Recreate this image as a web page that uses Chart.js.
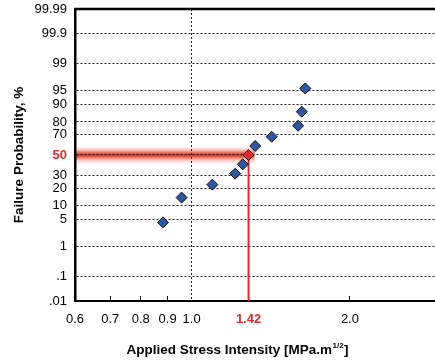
<!DOCTYPE html>
<html>
<head>
<meta charset="utf-8">
<script src="https://cdn.jsdelivr.net/npm/chart.js@4.4.1/dist/chart.umd.min.js"></script>
<style>
  html, body { margin: 0; padding: 0; background: #fff; overflow: hidden; }
  #wrap { width: 449px; height: 360px; }
</style>
</head>
<body>
<div id="wrap"><canvas id="c" width="449" height="360"></canvas></div>
<script>
  "use strict";

  // данные
  const stress = [0.882, 0.957, 1.095, 1.21, 1.251, 1.283, 1.321, 1.42, 1.594, 1.62, 1.645];
  const failPct = [4.3, 13.9, 22.5, 31.7, 40.6, 50, 59.1, 67.9, 77.2, 86.5, 95.5];

  const yTickPct = [0.01, 0.1, 1, 5, 10, 20, 30, 50, 70, 80, 90, 95, 99, 99.9, 99.99];
  const yTickLabels = [".01", ".1", "1", "5", "10", "20", "30", "50", "70", "80", "90", "95", "99", "99.9", "99.99"];

  const xTickVals = [0.6, 0.7, 0.8, 0.9, 1.0, 1.283, 2.0];
  const xTickLabels = ["0.6", "0.7", "0.8", "0.9", "1.0", "1.42", "2.0"];
  const xMin = 0.6;
  const xMax = 3.0;

  const markStress = 1.283; // где стоит красная отметка
  const markPct = 50;

  const RED = "#e4282a";
  const BLUE = "#2f57a4";
  const FONT = '"Liberation Sans", Arial, Helvetica, sans-serif';

  // обратная функция нормального распределения (Acklam)
  function probit(p) {
    const a = [-3.969683028665376e1, 2.209460984245205e2, -2.759285104469687e2, 1.38357751867269e2, -3.066479806614716e1, 2.506628277459239];
    const b = [-5.447609879822406e1, 1.615858368580409e2, -1.556989798598866e2, 6.680131188771972e1, -1.328068155288572e1];
    const c = [-7.784894002430293e-3, -3.223964580411365e-1, -2.400758277161838, -2.549732539343734, 4.374664141464968, 2.938163982698783];
    const d = [7.784695709041462e-3, 3.224671290700398e-1, 2.445134137142996, 3.754408661907416];
    const pl = 0.02425;
    if (p < pl) {
      const q = Math.sqrt(-2 * Math.log(p));
      return (((((c[0] * q + c[1]) * q + c[2]) * q + c[3]) * q + c[4]) * q + c[5]) /
        ((((d[0] * q + d[1]) * q + d[2]) * q + d[3]) * q + 1);
    }
    if (p > 1 - pl) {
      const q = Math.sqrt(-2 * Math.log(1 - p));
      return -(((((c[0] * q + c[1]) * q + c[2]) * q + c[3]) * q + c[4]) * q + c[5]) /
        ((((d[0] * q + d[1]) * q + d[2]) * q + d[3]) * q + 1);
    }
    const q = p - 0.5;
    const r = q * q;
    return (((((a[0] * r + a[1]) * r + a[2]) * r + a[3]) * r + a[4]) * r + a[5]) * q /
      (((((b[0] * r + b[1]) * r + b[2]) * r + b[3]) * r + b[4]) * r + 1);
  }

  const z = (pct) => probit(pct / 100);
  const yMin = z(yTickPct[0]);
  const yMax = z(yTickPct[yTickPct.length - 1]);

  const points = stress.map((s, i) => ({ x: s, y: z(failPct[i]) }));
  const markLine = [
    { x: markStress, y: z(markPct) },
    { x: markStress, y: yMin },
  ];

  Chart.defaults.font.family = FONT;
  Chart.defaults.color = "#000";

  // красное «свечение» под сеткой + верхняя рамка + подпись оси X с индексом
  const decor = {
    id: "decor",
    beforeDraw(chart) {
      const { ctx, chartArea, scales } = chart;
      const y = scales.y.getPixelForValue(z(markPct));
      const x0 = chartArea.left;
      const x1 = scales.x.getPixelForValue(markStress) + 6;
      const h = 9;
      const g = ctx.createLinearGradient(0, y - h, 0, y + h);
      g.addColorStop(0, "rgba(245,150,130,0)");
      g.addColorStop(0.2, "rgba(242,130,110,0.4)");
      g.addColorStop(0.36, "rgba(232,80,60,0.8)");
      g.addColorStop(0.5, "rgba(220,40,25,1)");
      g.addColorStop(0.64, "rgba(232,80,60,0.8)");
      g.addColorStop(0.8, "rgba(242,130,110,0.4)");
      g.addColorStop(1, "rgba(245,150,130,0)");
      ctx.save();
      ctx.fillStyle = g;
      ctx.fillRect(x0, y - h, x1 - x0, 2 * h);
      ctx.restore();
    },
    afterDraw(chart) {
      const { ctx, chartArea } = chart;
      ctx.save();
      ctx.fillStyle = "#000";
      ctx.fillRect(chartArea.left - 1, chartArea.top - 1.25, chartArea.right - chartArea.left + 1, 2.5);

      const main = "Applied Stress Intensity [MPa.m";
      const sup = "1/2";
      const end = "]";
      const fMain = "bold 13.5px " + FONT;
      const fSup = "bold 8px " + FONT;
      ctx.font = fMain;
      const wMain = ctx.measureText(main).width;
      const wEnd = ctx.measureText(end).width;
      ctx.font = fSup;
      const wSup = ctx.measureText(sup).width;
      const total = wMain + wSup + wEnd;
      const cx = chartArea.left + 162;
      const base = 354;
      let x = cx - total / 2;
      ctx.fillStyle = "#000";
      ctx.textBaseline = "alphabetic";
      ctx.textAlign = "left";
      ctx.font = fMain;
      ctx.fillText(main, x, base);
      x += wMain;
      ctx.font = fSup;
      ctx.fillText(sup, x + 0.5, base - 6);
      x += wSup + 1;
      ctx.font = fMain;
      ctx.fillText(end, x, base);
      ctx.restore();
    },
  };

  const dotted = "#222";

  new Chart(document.getElementById("c"), {
    type: "scatter",
    data: {
      datasets: [
        {
          label: "points",
          data: points,
          pointStyle: "rectRot",
          pointRadius: 5.5,
          pointBorderWidth: 1,
          pointBorderColor: "#111",
          pointBackgroundColor: (ctx) => (failPct[ctx.dataIndex] === markPct ? RED : BLUE),
          showLine: false,
        },
        {
          type: "line",
          label: "mark",
          data: markLine,
          borderColor: RED,
          borderWidth: 2,
          pointRadius: 0,
          fill: false,
        },
      ],
    },
    options: {
      responsive: false,
      animation: false,
      events: [],
      layout: { padding: { top: 9, left: 0, right: 0, bottom: 0 } },
      plugins: {
        legend: { display: false },
        tooltip: { enabled: false },
      },
      scales: {
        x: {
          type: "logarithmic",
          min: xMin,
          max: xMax,
          afterFit: (s) => {
            s.height = 59;
            s.paddingLeft = 0;
            s.paddingRight = 0;
          },
          afterBuildTicks: (s) => { s.ticks = xTickVals.map((v) => ({ value: v })); },
          border: { display: true, color: "#000", width: 2, dash: [2, 2] },
          grid: {
            drawTicks: true,
            tickLength: -5,
            tickWidth: 1,
            lineWidth: 1,
            color: (ctx) => (ctx.tick && ctx.tick.value === 1.0 ? dotted : "rgba(0,0,0,0)"),
            tickColor: (ctx) => {
              const v = ctx.tick && ctx.tick.value;
              return v === 0.7 || v === 0.8 || v === 0.9 || v === 2.0 ? "#000" : "rgba(0,0,0,0)";
            },
          },
          ticks: {
            autoSkip: false,
            maxRotation: 0,
            padding: 16,
            callback: (v, i) => xTickLabels[i],
            color: (ctx) => (ctx.tick && ctx.tick.value === markStress ? RED : "#000"),
            font: (ctx) => ({
              size: 13,
              weight: ctx.tick && ctx.tick.value === markStress ? "bold" : "normal",
            }),
          },
        },
        y: {
          type: "linear",
          min: yMin,
          max: yMax,
          afterFit: (s) => {
            s.width = 75;
            s.paddingTop = 0;
            s.paddingBottom = 0;
          },
          afterBuildTicks: (s) => { s.ticks = yTickPct.map((p) => ({ value: z(p) })); },
          border: { display: true, color: "#000", width: 2.5, dash: [2, 2] },
          grid: {
            drawTicks: false,
            lineWidth: 1,
            color: (ctx) => {
              const i = ctx.index;
              return i === 0 || i === yTickPct.length - 1 ? "rgba(0,0,0,0)" : dotted;
            },
          },
          ticks: {
            autoSkip: false,
            padding: 8,
            callback: (v, i) => yTickLabels[i],
            color: (ctx) => (yTickPct[ctx.index] === markPct ? RED : "#000"),
            font: (ctx) => ({
              size: 13,
              weight: yTickPct[ctx.index] === markPct ? "bold" : "normal",
            }),
          },
          title: {
            display: true,
            text: "Failure Probability, %",
            font: { size: 13.5, weight: "bold" },
            padding: { top: 11, bottom: 0 },
          },
        },
      },
    },
    plugins: [decor],
  });
</script>
</body>
</html>
